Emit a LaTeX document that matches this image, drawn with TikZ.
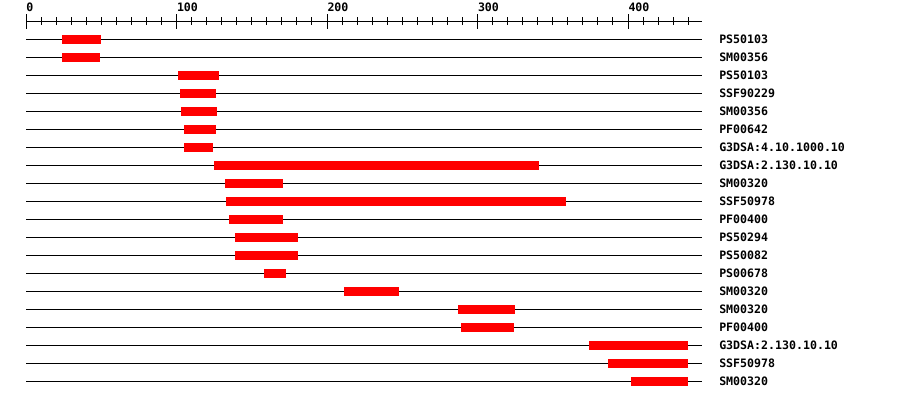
\documentclass[tikz,border=0pt]{standalone}
\usepackage{fontspec}
\setmainfont{DejaVu Sans Mono}
\usetikzlibrary{positioning}

\begin{document}
\begin{tikzpicture}[x=1pt, y=-1pt, line width=1pt,
        hit/.style={fill=red, draw=none},
        lab/.style={font=\bfseries\fontsize{11.6}{11.6}\selectfont, inner sep=0pt, anchor=west}]
    \useasboundingbox (0,0) rectangle (900,400);
    \begin{scope}[xshift=26pt, x=1.505pt]
        % scale
        \coordinate (axL) at (0,21);
        \coordinate (axR) at (449,21);
        \draw (axL) -- (axR);
        \foreach \t in {10,20,...,440}
            \draw (\t,17) -- (\t,25);
        \foreach \t in {0,100,...,400} {
            \draw (\t,14) -- (\t,29);
            \node (num\t) [lab, anchor=south west] at (\t,12) {\t};
        }
        % one line per hit
        \foreach \name/\s/\e [count=\i] in {PS50103/24/50, SM00356/24/49,
                PS50103/101/128, SSF90229/102/126, SM00356/103/127,
                PF00642/105/126, G3DSA:4.10.1000.10/105/124,
                G3DSA:2.130.10.10/125/341, SM00320/132/171, SSF50978/133/359,
                PF00400/135/171, PS50294/139/181, PS50082/139/181,
                PS00678/158/173, SM00320/211/248, SM00320/287/325,
                PF00400/289/324, G3DSA:2.130.10.10/374/440,
                SSF50978/387/440, SM00320/402/440} {
            \pgfmathsetmacro\ry{21+18*\i}
            \coordinate (rowL\i) at (0,\ry);
            \coordinate (rowR\i) at (449,\ry);
            \draw (rowL\i) -- (rowR\i);
            \fill[hit] (\s,\ry-4.5) rectangle (\e,\ry+4.5);
            \node (lab\i) [lab, right=17pt of rowR\i] {\name};
        }
    \end{scope}
\end{tikzpicture}
\end{document}
